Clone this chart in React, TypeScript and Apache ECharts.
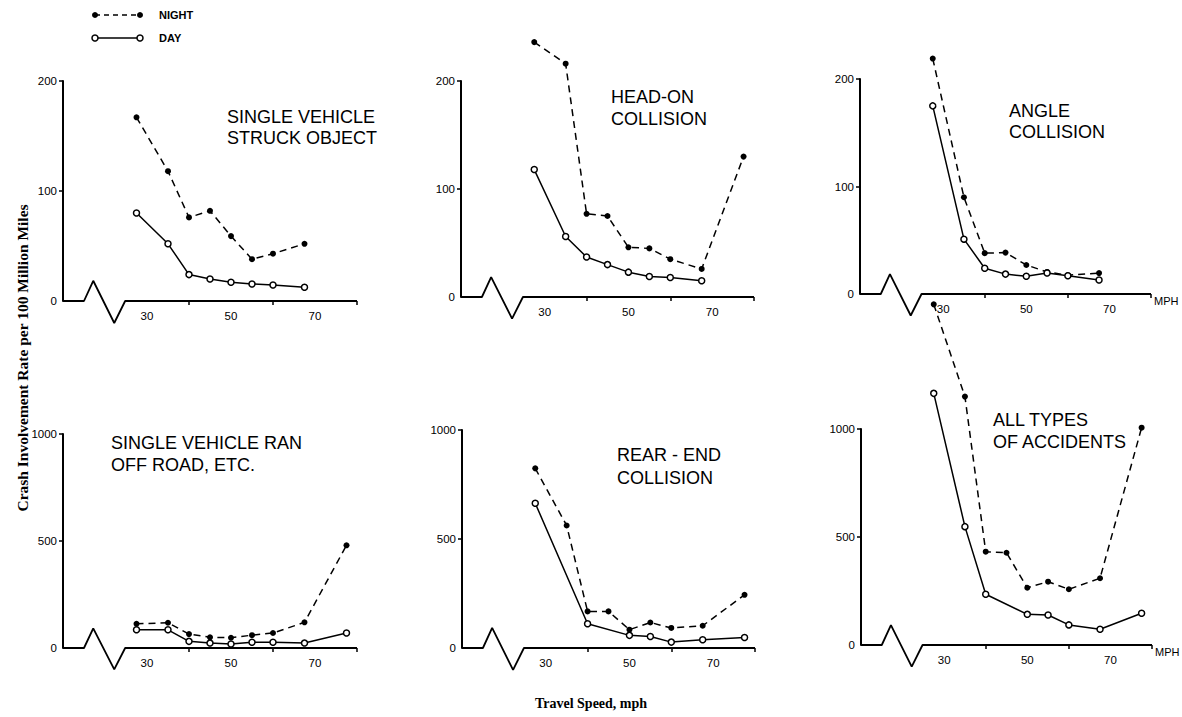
import React, { useEffect, useRef } from "react";
import * as echarts from "echarts";

// Travel speeds (mph) at which rates were reported
const speeds = [27.5, 35, 40, 45, 50, 55, 60, 67.5, 77.5];

// Crash involvement rate per 100 million miles (null = no point)
const struckNight = [167, 118, 76, 82, 59, 38, 43, 52, null];
const struckDay = [80, 52, 24, 20, 17, 15.5, 14.5, 12.5, null];
const headOnNight = [236, 216, 77, 75, 46, 45, 35, 26, 130];
const headOnDay = [118, 56, 37, 30, 23, 19, 18, 15, null];
const angleNight = [219, 90, 38, 38.5, 27, 20.5, 17.5, 19.5, null];
const angleDay = [175, 51, 24, 18.5, 16.5, 19.5, 17, 13, null];
const ranOffNight = [113, 118, 65, 50, 48, 60, 70, 120, 480];
const ranOffDay = [85, 85, 31, 23, 19, 27, 27, 23, 70];
const rearNight = [824, 562, 168, 168, 84, 117, 92, 102, 244];
const rearDay = [664, null, 111, null, 58, 53, 27, 38, 48];
const allNight = [1577, 1150, 432, 427, 265, 293, 258, 309, 1006];
const allDay = [1165, 548, 235, null, 142, 139, 93, 73, 147];

const titles = [
  ["SINGLE VEHICLE", "STRUCK OBJECT"],
  ["HEAD-ON", "COLLISION"],
  ["ANGLE", "COLLISION"],
  ["SINGLE VEHICLE RAN", "OFF ROAD, ETC."],
  ["REAR - END", "COLLISION"],
  ["ALL TYPES", "OF ACCIDENTS"],
];
const nightSets = [struckNight, headOnNight, angleNight, ranOffNight, rearNight, allNight];
const daySets = [struckDay, headOnDay, angleDay, ranOffDay, rearDay, allDay];
const yMax = [200, 200, 200, 1000, 1000, 1000];
const yStep = [100, 100, 100, 500, 500, 500];
const showMph = [false, false, true, false, false, true];

// x-axis range, tick marks and labelled ticks
const xMin = 10;
const xMax = 80;
const xTickValues = [40, 60, 80];
const xLabelValues = [30, 50, 70];

// axis-break zigzag (speed, fraction of the y range)
const breakX = [10, 15, 17.2, 22.2, 24.8, 80];
const breakFrac = [0, 0, 0.092, -0.1, 0, 0];

// layout (pixels)
const layouts = [
  { left: 63, top: 81, width: 294, height: 220 },
  { left: 461, top: 81, width: 293, height: 216 },
  { left: 860, top: 79, width: 291, height: 215 },
  { left: 63, top: 434, width: 294, height: 214 },
  { left: 462, top: 430, width: 293, height: 218 },
  { left: 861, top: 429, width: 291, height: 216 },
];
// [x, first line y, second line y]
const titlePos = [
  [227, 108, 129],
  [611, 88, 110],
  [1009, 102, 123],
  [111, 434, 456],
  [617, 446, 469],
  [993, 411, 433],
];

const LABEL_FONT = "'Liberation Sans', Arial, sans-serif";
const TITLE_FONT = "'Liberation Sans', Arial, sans-serif";
const SERIF = "'Liberation Serif', 'Times New Roman', serif";
const INK = "#000";

function pairs(vals: (number | null)[]) {
  return speeds
    .map((s, i) => [s, vals[i]] as [number, number | null])
    .filter((d) => d[1] !== null);
}

function buildOption() {
  const grid = layouts.map((l) => ({
    left: l.left,
    top: l.top,
    width: l.width,
    height: l.height,
    containLabel: false,
    outerBoundsMode: "none",
  }));

  const xAxis = layouts.map((_, i) => ({
    type: "value",
    gridIndex: i,
    min: xMin,
    max: xMax,
    axisLine: { show: false },
    splitLine: { show: false },
    axisTick: {
      show: true,
      customValues: xTickValues,
      length: 4,
      lineStyle: { color: INK, width: 1.5 },
    },
    axisLabel: {
      show: true,
      customValues: xLabelValues,
      margin: 9,
      color: INK,
      fontSize: 11.5,
      fontFamily: LABEL_FONT,
      formatter: (v: number) => String(v),
    },
    name: showMph[i] ? "MPH" : "",
    nameLocation: "end",
    nameGap: 3,
    nameTextStyle: {
      color: INK,
      fontSize: 11,
      fontFamily: LABEL_FONT,
      align: "left",
      verticalAlign: "top",
      padding: [1, 0, 0, 0],
    },
  }));

  const yAxis = layouts.map((_, i) => ({
    type: "value",
    gridIndex: i,
    min: 0,
    max: yMax[i],
    interval: yStep[i],
    splitLine: { show: false },
    axisLine: { show: true, onZero: false, lineStyle: { color: INK, width: 2 } },
    axisTick: {
      show: true,
      customValues: [yStep[i], yMax[i]],
      length: 4,
      lineStyle: { color: INK, width: 1.5 },
    },
    axisLabel: {
      margin: 6,
      color: INK,
      fontSize: 11.5,
      fontFamily: LABEL_FONT,
      formatter: (v: number) => String(v),
    },
  }));

  const series: any[] = [];
  layouts.forEach((_, i) => {
    series.push({
      type: "line",
      xAxisIndex: i,
      yAxisIndex: i,
      data: breakX.map((x, k) => [x, breakFrac[k] * yMax[i]]),
      symbol: "none",
      lineStyle: { color: INK, width: 1.8 },
      clip: false,
      silent: true,
      z: 1,
      emphasis: { disabled: true },
    });
    series.push({
      type: "line",
      name: "NIGHT",
      xAxisIndex: i,
      yAxisIndex: i,
      data: pairs(nightSets[i]),
      symbol: "circle",
      symbolSize: 6,
      showAllSymbol: true,
      itemStyle: { color: INK },
      lineStyle: { color: INK, width: 1.5, type: [7, 5] },
      clip: false,
      z: 3,
      emphasis: { disabled: true },
    });
    series.push({
      type: "line",
      name: "DAY",
      xAxisIndex: i,
      yAxisIndex: i,
      data: pairs(daySets[i]),
      symbol: "circle",
      symbolSize: 6,
      showAllSymbol: true,
      itemStyle: { color: "#fff", borderColor: INK, borderWidth: 1.5 },
      lineStyle: { color: INK, width: 1.5 },
      clip: false,
      z: 4,
      emphasis: { disabled: true },
    });
  });

  const graphic: any[] = [];
  titles.forEach((lines, i) => {
    lines.forEach((line, k) => {
      graphic.push({
        type: "text",
        x: titlePos[i][0],
        y: titlePos[i][1 + k],
        style: {
          text: line,
          fill: INK,
          font: `18px ${TITLE_FONT}`,
          textAlign: "left",
          textVerticalAlign: "top",
        },
        silent: true,
      });
    });
  });

  // legend
  graphic.push(
    { type: "line", shape: { x1: 95, y1: 15, x2: 140, y2: 15 }, style: { stroke: INK, lineWidth: 1.5, lineDash: [5, 4] } },
    { type: "circle", shape: { cx: 95, cy: 15, r: 3 }, style: { fill: INK } },
    { type: "circle", shape: { cx: 140, cy: 15, r: 3 }, style: { fill: INK } },
    { type: "text", x: 159, y: 15, style: { text: "NIGHT", fill: INK, font: `bold 11px ${LABEL_FONT}`, textVerticalAlign: "middle" } },
    { type: "line", shape: { x1: 95, y1: 38, x2: 140, y2: 38 }, style: { stroke: INK, lineWidth: 1.5 } },
    { type: "circle", shape: { cx: 95, cy: 38, r: 3 }, style: { fill: "#fff", stroke: INK, lineWidth: 1.5 } },
    { type: "circle", shape: { cx: 140, cy: 38, r: 3 }, style: { fill: "#fff", stroke: INK, lineWidth: 1.5 } },
    { type: "text", x: 159, y: 38, style: { text: "DAY", fill: INK, font: `bold 11px ${LABEL_FONT}`, textVerticalAlign: "middle" } }
  );

  // axis titles
  graphic.push(
    {
      type: "text",
      x: 22,
      y: 358,
      rotation: Math.PI / 2,
      style: {
        text: "Crash Involvement Rate per 100 Million Miles",
        fill: INK,
        font: `bold 15.5px ${SERIF}`,
        textAlign: "center",
        textVerticalAlign: "middle",
      },
    },
    {
      type: "text",
      x: 591,
      y: 703,
      style: {
        text: "Travel Speed, mph",
        fill: INK,
        font: `bold 14px ${SERIF}`,
        textAlign: "center",
        textVerticalAlign: "middle",
      },
    }
  );

  return {
    animation: false,
    backgroundColor: "#fff",
    textStyle: { color: INK },
    grid,
    xAxis,
    yAxis,
    series,
    graphic,
  };
}

export default function App() {
  const ref = useRef<HTMLDivElement>(null);
  useEffect(() => {
    if (!ref.current) return;
    const chart = echarts.init(ref.current, null, { renderer: "svg" });
    chart.setOption(buildOption() as any);
    return () => chart.dispose();
  }, []);
  return (
    <div
      ref={ref}
      style={{ position: "absolute", left: 0, top: 0, width: 1182, height: 717, background: "#fff" }}
    />
  );
}
